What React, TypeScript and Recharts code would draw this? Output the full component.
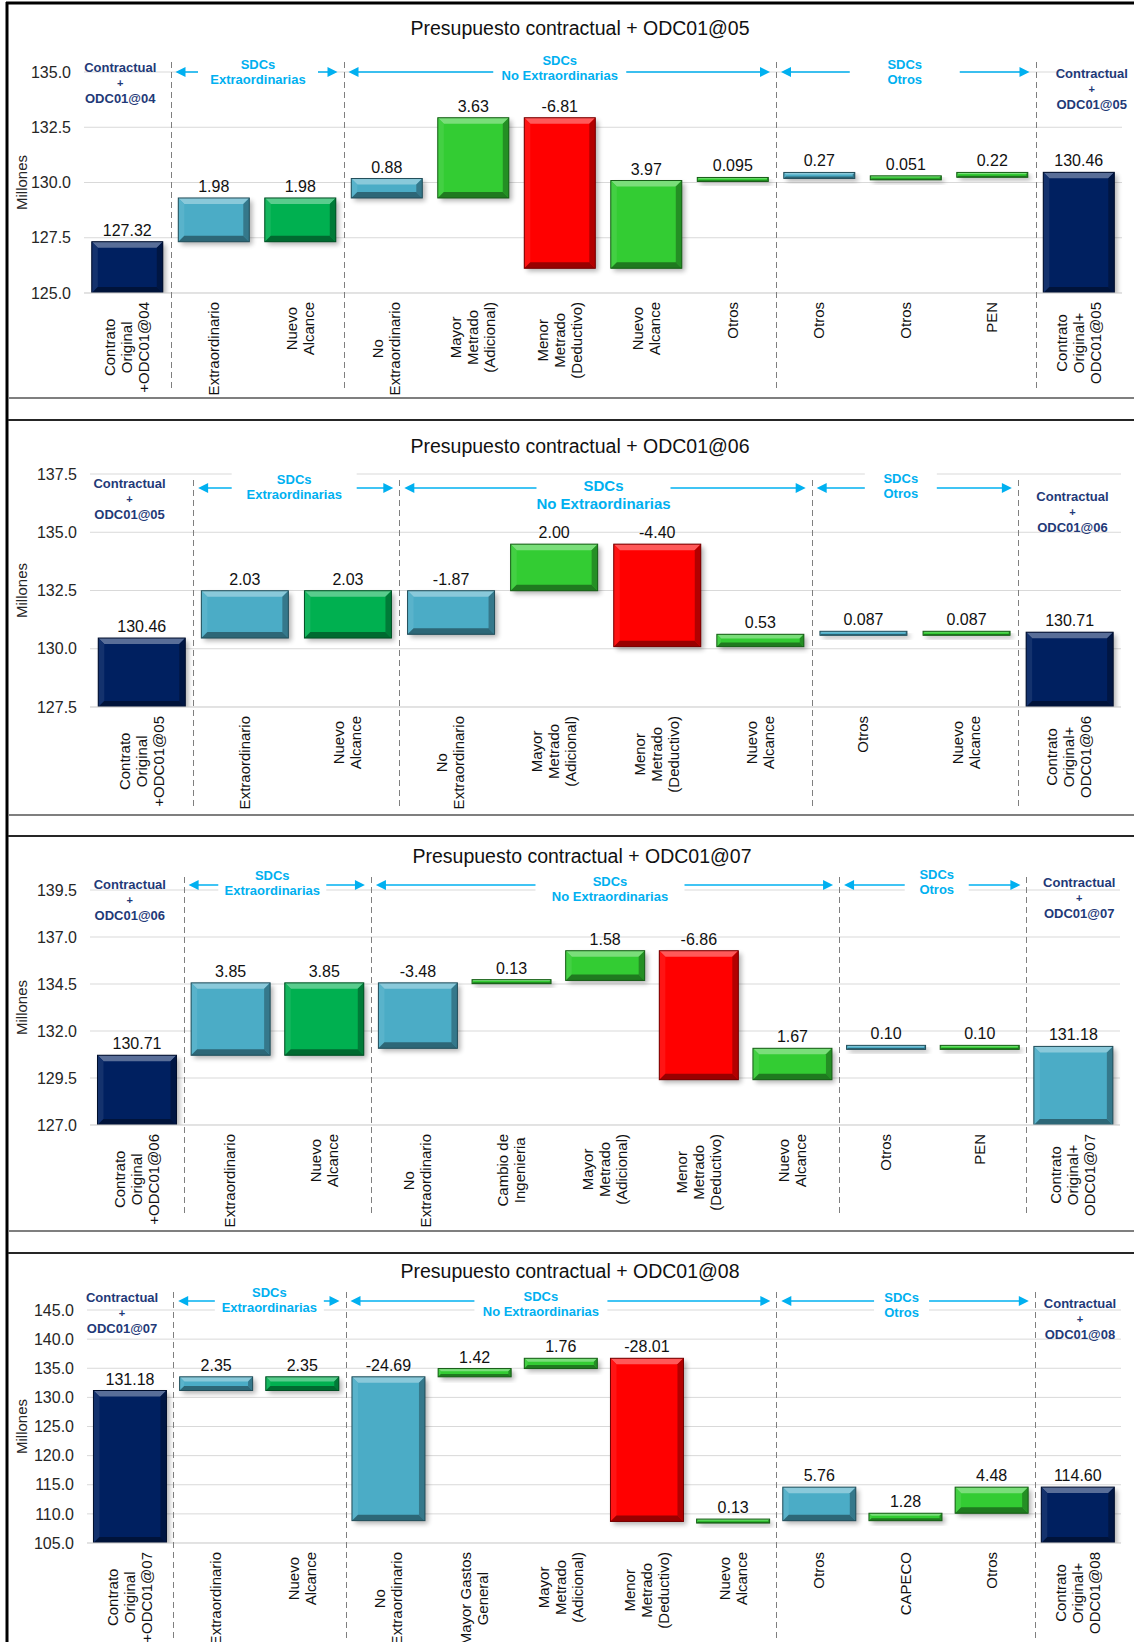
import { Bar, BarChart, CartesianGrid, LabelList, XAxis, YAxis } from 'recharts';

const W = 1134;
const H = 1642;
const FONT = '"Liberation Sans", Arial, Helvetica, sans-serif';
const CYAN = '#00B0F0';
const NAVY_TXT = '#1F3A78';

// ---- Presupuesto contractual + ODC01@05
const p1Categories = [
  'Contrato\nOriginal\n+ODC01@04', 'Extraordinario', 'Nuevo\nAlcance', 'No\nExtraordinario',
  'Mayor\nMetrado\n(Adicional)', 'Menor\nMetrado\n(Deductivo)', 'Nuevo\nAlcance', 'Otros',
  'Otros', 'Otros', 'PEN', 'Contrato\nOriginal+\nODC01@05',
];
const p1Values = [127.32, 1.98, 1.98, 0.88, 3.63, -6.81, 3.97, 0.095, 0.27, 0.051, 0.22, 130.46];
const p1Kinds = ['total', 'summary', 'extra', 'summary', 'detail', 'detail', 'detail', 'detail', 'summary', 'detail', 'detail', 'total'];
const p1Ticks = [125, 127.5, 130, 132.5, 135];
const p1Groups = [[0, 0], [1, 2], [3, 7], [8, 10], [11, 11]];
const p1GroupLabels = [['Contractual', '+', 'ODC01@04'], ['SDCs', 'Extraordinarias'], ['SDCs', 'No Extraordinarias'], ['SDCs', 'Otros'], ['Contractual', '+', 'ODC01@05']];

// ---- Presupuesto contractual + ODC01@06
const p2Categories = [
  'Contrato\nOriginal\n+ODC01@05', 'Extraordinario', 'Nuevo\nAlcance', 'No\nExtraordinario',
  'Mayor\nMetrado\n(Adicional)', 'Menor\nMetrado\n(Deductivo)', 'Nuevo\nAlcance', 'Otros',
  'Nuevo\nAlcance', 'Contrato\nOriginal+\nODC01@06',
];
const p2Values = [130.46, 2.03, 2.03, -1.87, 2.0, -4.4, 0.53, 0.087, 0.087, 130.71];
const p2Kinds = ['total', 'summary', 'extra', 'summary', 'detail', 'detail', 'detail', 'summary', 'detail', 'total'];
const p2Ticks = [127.5, 130, 132.5, 135, 137.5];
const p2Groups = [[0, 0], [1, 2], [3, 6], [7, 8], [9, 9]];
const p2GroupLabels = [['Contractual', '+', 'ODC01@05'], ['SDCs', 'Extraordinarias'], ['SDCs', 'No Extraordinarias'], ['SDCs', 'Otros'], ['Contractual', '+', 'ODC01@06']];

// ---- Presupuesto contractual + ODC01@07
const p3Categories = [
  'Contrato\nOriginal\n+ODC01@06', 'Extraordinario', 'Nuevo\nAlcance', 'No\nExtraordinario',
  'Cambio de\nIngenieria', 'Mayor\nMetrado\n(Adicional)', 'Menor\nMetrado\n(Deductivo)', 'Nuevo\nAlcance',
  'Otros', 'PEN', 'Contrato\nOriginal+\nODC01@07',
];
const p3Values = [130.71, 3.85, 3.85, -3.48, 0.13, 1.58, -6.86, 1.67, 0.1, 0.1, 131.18];
const p3Kinds = ['total', 'summary', 'extra', 'summary', 'detail', 'detail', 'detail', 'detail', 'summary', 'detail', 'total'];
const p3Ticks = [127, 129.5, 132, 134.5, 137, 139.5];
const p3Groups = [[0, 0], [1, 2], [3, 7], [8, 9], [10, 10]];
const p3GroupLabels = [['Contractual', '+', 'ODC01@06'], ['SDCs', 'Extraordinarias'], ['SDCs', 'No Extraordinarias'], ['SDCs', 'Otros'], ['Contractual', '+', 'ODC01@07']];

// ---- Presupuesto contractual + ODC01@08
const p4Categories = [
  'Contrato\nOriginal\n+ODC01@07', 'Extraordinario', 'Nuevo\nAlcance', 'No\nExtraordinario',
  'Mayor Gastos\nGeneral', 'Mayor\nMetrado\n(Adicional)', 'Menor\nMetrado\n(Deductivo)', 'Nuevo\nAlcance',
  'Otros', 'CAPECO', 'Otros', 'Contrato\nOriginal+\nODC01@08',
];
const p4Values = [131.18, 2.35, 2.35, -24.69, 1.42, 1.76, -28.01, 0.13, 5.76, 1.28, 4.48, 114.6];
const p4Kinds = ['total', 'summary', 'extra', 'summary', 'detail', 'detail', 'detail', 'detail', 'summary', 'detail', 'detail', 'total'];
const p4Ticks = [105, 110, 115, 120, 125, 130, 135, 140, 145];
const p4Groups = [[0, 0], [1, 2], [3, 7], [8, 10], [11, 11]];
const p4GroupLabels = [['Contractual', '+', 'ODC01@07'], ['SDCs', 'Extraordinarias'], ['SDCs', 'No Extraordinarias'], ['SDCs', 'Otros'], ['Contractual', '+', 'ODC01@08']];

const fills = { total: '#002060', summary: '#4BACC6', extra: '#00B050', up: '#33CC33', down: '#FF0000' };

type Ann = { dx: number; y: number; gap?: number; size?: number };

const panels = [
  {
    title: 'Presupuesto contractual + ODC01@05', titleX: 580, titleY: 28,
    categories: p1Categories, values: p1Values, kinds: p1Kinds, ticks: p1Ticks, domain: [125, 135],
    groups: p1Groups, groupLabels: p1GroupLabels,
    top: 3, bottom: 398, plotTop: 72, plotBottom: 293, plotLeft: 84, plotRight: 1122, gap: '9%',
    sepTop: 62, sepBottom: 392, arrowY: 72,
    ann: [{ dx: -7, y: 67 }, { dx: 1, y: 64, gap: 120 }, { dx: 0, y: 60, gap: 133 }, { dx: -1, y: 64, gap: 110 }, { dx: 13, y: 73 }] as Ann[],
  },
  {
    title: 'Presupuesto contractual + ODC01@06', titleX: 580, titleY: 446,
    categories: p2Categories, values: p2Values, kinds: p2Kinds, ticks: p2Ticks, domain: [127.5, 137.5],
    groups: p2Groups, groupLabels: p2GroupLabels,
    top: 420, bottom: 815, plotTop: 474, plotBottom: 707, plotLeft: 90, plotRight: 1121, gap: '8%',
    sepTop: 480, sepBottom: 807, arrowY: 488,
    ann: [{ dx: -12, y: 483 }, { dx: -2, y: 479, gap: 125 }, { dx: -2, y: 486, gap: 134, size: 15 }, { dx: -14, y: 478, gap: 72 }, { dx: 3, y: 496 }] as Ann[],
  },
  {
    title: 'Presupuesto contractual + ODC01@07', titleX: 582, titleY: 856,
    categories: p3Categories, values: p3Values, kinds: p3Kinds, ticks: p3Ticks, domain: [127, 139.5],
    groups: p3Groups, groupLabels: p3GroupLabels, lastFill: fills.summary,
    top: 836, bottom: 1231, plotTop: 890, plotBottom: 1125, plotLeft: 90, plotRight: 1120, gap: '8%',
    sepTop: 877, sepBottom: 1213, arrowY: 885,
    ann: [{ dx: -7, y: 884 }, { dx: -5, y: 875, gap: 108 }, { dx: 5, y: 881, gap: 149 }, { dx: 4, y: 874, gap: 64 }, { dx: 6, y: 882 }] as Ann[],
  },
  {
    title: 'Presupuesto contractual + ODC01@08', titleX: 570, titleY: 1271,
    categories: p4Categories, values: p4Values, kinds: p4Kinds, ticks: p4Ticks, domain: [105, 145],
    groups: p4Groups, groupLabels: p4GroupLabels,
    top: 1253, bottom: 1642, plotTop: 1310, plotBottom: 1543, plotLeft: 87, plotRight: 1121, gap: '7.5%',
    sepTop: 1292, sepBottom: 1642, arrowY: 1301,
    ann: [{ dx: -8, y: 1297 }, { dx: 10, y: 1292, gap: 109 }, { dx: -20, y: 1296, gap: 133 }, { dx: -4, y: 1297, gap: 55 }, { dx: 2, y: 1303 }] as Ann[],
  },
];

type Panel = (typeof panels)[number] & { lastFill?: string };

function fmt(v: number) {
  const r2 = Math.round(v * 100) / 100;
  return Math.abs(r2 - v) > 1e-9 ? v.toFixed(3) : v.toFixed(2);
}

function buildRows(p: Panel) {
  let level = 0;
  return p.categories.map((name, i) => {
    const v = p.values[i];
    const k = p.kinds[i];
    let lo = level;
    let hi = level + v;
    if (k === 'total') {
      lo = p.domain[0];
      hi = v;
      level = v;
    } else if (k !== 'summary') {
      level = hi;
    }
    let fill = k === 'total' ? fills.total : k === 'summary' ? fills.summary : k === 'extra' ? fills.extra : v < 0 ? fills.down : fills.up;
    if (k === 'total' && i === p.categories.length - 1 && p.lastFill) fill = p.lastFill;
    return { id: String(i), name, range: [Math.min(lo, hi), Math.max(lo, hi)], label: fmt(v), fill };
  });
}

const widthCache: Record<string, number> = {};
function measure(text: string, font: string) {
  const key = font + '|' + text;
  if (widthCache[key] == null) {
    const ctx = document.createElement('canvas').getContext('2d');
    if (ctx) {
      ctx.font = font;
      widthCache[key] = ctx.measureText(text).width;
    } else {
      widthCache[key] = text.length * 8;
    }
  }
  return widthCache[key];
}

function shade(hex: string, amt: number) {
  const n = parseInt(hex.slice(1), 16);
  const ch = [(n >> 16) & 255, (n >> 8) & 255, n & 255].map((c) =>
    Math.round(amt >= 0 ? c + (255 - c) * amt : c * (1 + amt)),
  );
  return `rgb(${ch[0]},${ch[1]},${ch[2]})`;
}

function BevelBar(props: any) {
  const { x, y, width, height, payload } = props;
  if (x == null || y == null || !payload) return null;
  let top = Math.min(y, y + height);
  let h = Math.abs(height);
  if (h < 4) {
    top -= (4 - h) / 2;
    h = 4;
  }
  const w = width;
  const b = Math.max(1.2, Math.min(6, h / 3, w / 8));
  const c = payload.fill;
  const r = x + w;
  const bt = top + h;
  return (
    <g>
      <rect x={x + 3} y={top + 3} width={w} height={h} fill="#000" opacity={0.3} filter="url(#barShadow)" />
      <rect x={x} y={top} width={w} height={h} fill={c} />
      <polygon points={`${x},${top} ${r},${top} ${r - b},${top + b} ${x + b},${top + b}`} fill={shade(c, 0.35)} />
      <polygon points={`${x},${top} ${x + b},${top + b} ${x + b},${bt - b} ${x},${bt}`} fill={shade(c, 0.08)} />
      <polygon points={`${r},${top} ${r},${bt} ${r - b},${bt - b} ${r - b},${top + b}`} fill={shade(c, -0.3)} />
      <polygon points={`${x},${bt} ${r},${bt} ${r - b},${bt - b} ${x + b},${bt - b}`} fill={shade(c, -0.4)} />
      <rect x={x} y={top} width={w} height={h} fill="none" stroke={shade(c, -0.55)} strokeWidth={1} />
    </g>
  );
}

function ValueLabel(props: any) {
  const vb = props.viewBox ?? props;
  const { x, y, width, height } = vb;
  if (x == null) return null;
  const h = Math.abs(height);
  let top = Math.min(y, y + height);
  if (h < 4) top -= (4 - h) / 2;
  return (
    <text x={x + width / 2} y={top - 6} textAnchor="middle" fontSize={16} fill="#111" fontFamily={FONT}>
      {props.value}
    </text>
  );
}

function CatTick(props: any) {
  const { x, y, payload, rows } = props;
  const row = rows[Number(payload.value)];
  if (!row) return null;
  const lines: string[] = row.name.split('\n');
  const maxW = Math.max(...lines.map((l) => measure(l, `15px ${FONT}`)));
  const cy = y + 9 + maxW / 2;
  return (
    <g transform={`translate(${x},${cy}) rotate(-90)`}>
      <text textAnchor="middle" fontSize={15} fill="#111" fontFamily={FONT}>
        {lines.map((l, i) => (
          <tspan key={i} x={0} y={(i - (lines.length - 1) / 2) * 17 + 5}>
            {l}
          </tspan>
        ))}
      </text>
    </g>
  );
}

function ChartPanel({ cfg }: { cfg: Panel }) {
  const rows = buildRows(cfg);
  const h = cfg.bottom - cfg.top;
  return (
    <div style={{ position: 'absolute', left: 0, top: cfg.top, width: W, height: h }}>
      <BarChart
        width={W}
        height={h}
        data={rows}
        margin={{ top: cfg.plotTop - cfg.top, right: W - cfg.plotRight, bottom: 0, left: 0 }}
        barCategoryGap={cfg.gap}
      >
        <CartesianGrid vertical={false} stroke="#D9D9D9" />
        <XAxis
          dataKey="id"
          interval={0}
          height={cfg.bottom - cfg.plotBottom}
          tickLine={false}
          tickSize={0}
          tickMargin={0}
          axisLine={{ stroke: '#D9D9D9' }}
          tick={(p: any) => <CatTick {...p} rows={rows} />}
        />
        <YAxis
          type="number"
          domain={cfg.domain}
          ticks={cfg.ticks}
          interval={0}
          allowDataOverflow
          width={cfg.plotLeft}
          tickLine={false}
          axisLine={false}
          tickSize={0}
          tickMargin={13}
          tick={{ fontSize: 16, fill: '#262626', fontFamily: FONT }}
          tickFormatter={(v: number) => Number(v).toFixed(1)}
        />
        <Bar dataKey="range" isAnimationActive={false} shape={(p: any) => <BevelBar {...p} />}>
          <LabelList dataKey="label" content={(p: any) => <ValueLabel {...p} />} />
        </Bar>
      </BarChart>
    </div>
  );
}

function PanelDecor({ cfg }: { cfg: Panel }) {
  const n = cfg.categories.length;
  const band = (cfg.plotRight - cfg.plotLeft) / n;
  return (
    <g fontFamily={FONT}>
      <text x={cfg.titleX} y={cfg.titleY + 7} textAnchor="middle" fontSize={19.5} fill="#111">
        {cfg.title}
      </text>
      <text
        transform={`translate(22,${(cfg.plotTop + cfg.plotBottom) / 2}) rotate(-90)`}
        textAnchor="middle"
        fontSize={15}
        fill="#262626"
        y={5}
      >
        Millones
      </text>
      {cfg.groups.slice(1).map((g, i) => {
        const sx = Math.round(cfg.plotLeft + g[0] * band) + 0.5;
        return (
          <line key={i} x1={sx} x2={sx} y1={cfg.sepTop} y2={cfg.sepBottom} stroke="#7F7F7F" strokeWidth={1} strokeDasharray="6 4" />
        );
      })}
      {cfg.groups.map((g, gi) => {
        const x0 = cfg.plotLeft + g[0] * band;
        const x1 = cfg.plotLeft + (g[1] + 1) * band;
        const lay = cfg.ann[gi];
        const cx = (x0 + x1) / 2 + lay.dx;
        const labels = cfg.groupLabels[gi];
        const contract = labels[0] === 'Contractual';
        const size = lay.size ?? 13;
        const lh = size + 2.5;
        const ay = cfg.arrowY;
        const xl = x0 + 5;
        const xr = x1 - 6;
        return (
          <g key={gi}>
            {!contract && (
              <g>
                <line x1={xl + 6} x2={xr - 6} y1={ay} y2={ay} stroke={CYAN} strokeWidth={1.6} />
                <polygon points={`${xl},${ay} ${xl + 10},${ay - 5} ${xl + 10},${ay + 5}`} fill={CYAN} />
                <polygon points={`${xr},${ay} ${xr - 10},${ay - 5} ${xr - 10},${ay + 5}`} fill={CYAN} />
                <rect x={cx - (lay.gap ?? 100) / 2} y={lay.y - 9} width={lay.gap ?? 100} height={lh * (labels.length - 1) + 18} fill="#fff" />
              </g>
            )}
            {labels.map((t, i) => (
              <text
                key={i}
                x={cx}
                y={lay.y + i * lh + size * 0.36}
                textAnchor="middle"
                fontSize={t === '+' ? 11 : size}
                fontWeight="bold"
                fill={contract ? NAVY_TXT : CYAN}
              >
                {t}
              </text>
            ))}
          </g>
        );
      })}
    </g>
  );
}

export default function App() {
  return (
    <div style={{ position: 'absolute', left: 0, top: 0, width: W, height: H, background: '#fff', overflow: 'hidden', fontFamily: FONT }}>
      <svg width={0} height={0} style={{ position: 'absolute' }}>
        <defs>
          <filter id="barShadow" x="-30%" y="-30%" width="160%" height="160%">
            <feGaussianBlur stdDeviation="2.5" />
          </filter>
        </defs>
      </svg>
      {panels.map((cfg, i) => (
        <ChartPanel key={i} cfg={cfg as Panel} />
      ))}
      <svg width={W} height={H} style={{ position: 'absolute', left: 0, top: 0, pointerEvents: 'none' }}>
        {panels.map((cfg, i) => (
          <PanelDecor key={i} cfg={cfg as Panel} />
        ))}
        <line x1={6} x2={W} y1={3} y2={3} stroke="#000" strokeWidth={3} />
        <line x1={7} x2={7} y1={2} y2={H} stroke="#000" strokeWidth={3} />
        {[398, 815, 1231].map((y) => (
          <line key={y} x1={8} x2={W} y1={y} y2={y} stroke="#7F7F7F" strokeWidth={2} />
        ))}
        {[420, 836, 1253].map((y) => (
          <line key={y} x1={8} x2={W} y1={y} y2={y} stroke="#262626" strokeWidth={2} />
        ))}
      </svg>
    </div>
  );
}
